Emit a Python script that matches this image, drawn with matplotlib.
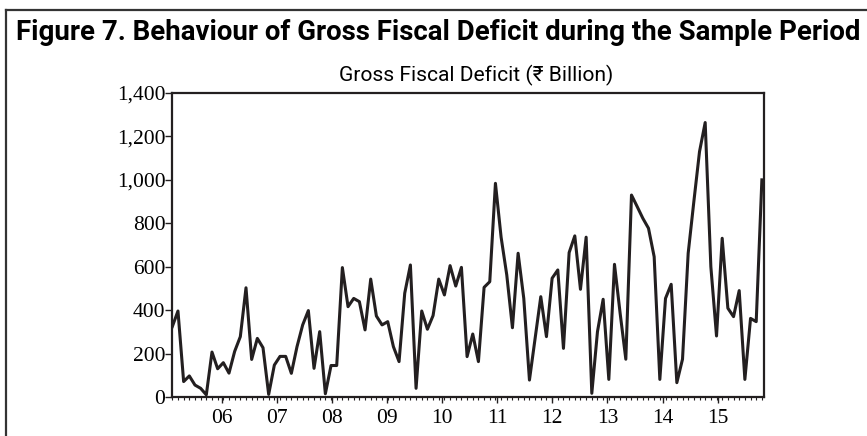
import matplotlib
matplotlib.use('Agg')
import matplotlib.pyplot as plt
import numpy as np
from matplotlib import font_manager
from matplotlib.lines import Line2D
from matplotlib.ticker import FuncFormatter

# Gross fiscal deficit, Rs billion
gfd = [324, 396, 71, 97, 55, 40, 10, 207, 130, 158,
       110, 210, 278, 503, 173, 270, 227, 12, 147, 187,
       187, 109, 232, 332, 398, 132, 301, 15, 145, 145,
       596, 416, 454, 439, 309, 543, 373, 332, 347, 232,
       163, 478, 608, 40, 396, 312, 375, 543, 470, 605,
       511, 597, 186, 290, 163, 505, 531, 984, 736, 562,
       319, 662, 454, 78, 270, 462, 278, 547, 585, 224,
       665, 742, 496, 736, 17, 301, 450, 81, 611, 385,
       174, 930, 877, 823, 777, 646, 81, 454, 519, 66,
       174, 662, 900, 1130, 1264, 600, 281, 731, 409, 370,
       490, 81, 362, 347, 1000]

years = [2006, 2007, 2008, 2009, 2010, 2011, 2012, 2013, 2014, 2015]
year_labels = ['06', '07', '08', '09', '10', '11', '12', '13', '14', '15']

first_obs = 2005.103   # time of the first observation
obs_per_year = 9.72

x = first_obs + np.arange(len(gfd)) / obs_per_year


def pick_font(names):
    for n in names:
        try:
            font_manager.findfont(n, fallback_to_default=False)
            return n
        except Exception:
            pass
    return 'DejaVu Sans'


sans = pick_font(['Liberation Sans Narrow', 'Roboto', 'Open Sans'])
serif = 'Liberation Serif'
ink = '#231f20'

fig = plt.figure(figsize=(8.67, 4.36), dpi=100)
ax = fig.add_axes([172.3 / 867, 1 - 397 / 436, 592 / 867, 304 / 436])

ax.plot(x, gfd, color=ink, lw=2.2)

ax.set_xlim(x[0], x[-1] + 0.044)
ax.set_ylim(0, 1400)
ax.set_yticks(range(0, 1401, 200))
ax.yaxis.set_major_formatter(FuncFormatter(lambda v, p: f'{v:,.0f}'))
ax.set_xticks(years)
ax.set_xticklabels(year_labels)
ax.set_xticks(x, minor=True)

ax.tick_params(axis='x', which='major', direction='out', length=4, width=1,
               pad=4.5, labelsize=15.5, colors=ink)
ax.tick_params(axis='x', which='minor', direction='out', length=2, width=0.8,
               colors=ink)
ax.tick_params(axis='y', which='major', direction='out', length=5, width=1,
               pad=0, labelsize=15.5, colors=ink)
for lab in ax.get_xticklabels() + ax.get_yticklabels():
    lab.set_family(serif)
    lab.set_color('black')
for s in ax.spines.values():
    s.set_linewidth(1.6)
    s.set_color(ink)

# outer frame of the figure box
fig.add_artist(Line2D([6 / 867, 6 / 867], [0, 1 - 10 / 436],
                      transform=fig.transFigure, color='#333333', lw=1.6))
fig.add_artist(Line2D([6 / 867, 1], [1 - 10 / 436, 1 - 10 / 436],
                      transform=fig.transFigure, color='#333333', lw=1.6))

title = fig.text(438 / 867, 1 - 33 / 436,
                 'Figure 7. Behaviour of Gross Fiscal Deficit during the Sample Period',
                 ha='center', va='center', fontsize=18, fontweight='bold',
                 family=[sans, 'DejaVu Sans'])
sub = fig.text(476 / 867, 1 - 75 / 436, 'Gross Fiscal Deficit (₹ Billion)',
               ha='center', va='center', fontsize=11,
               family=[sans, 'DejaVu Sans'])

renderer = fig.canvas.get_renderer()
for t, w in [(title, 847), (sub, 272)]:
    cur = t.get_window_extent(renderer).width
    t.set_fontsize(t.get_fontsize() * w / cur)

fig.savefig('out.png', dpi=100)
